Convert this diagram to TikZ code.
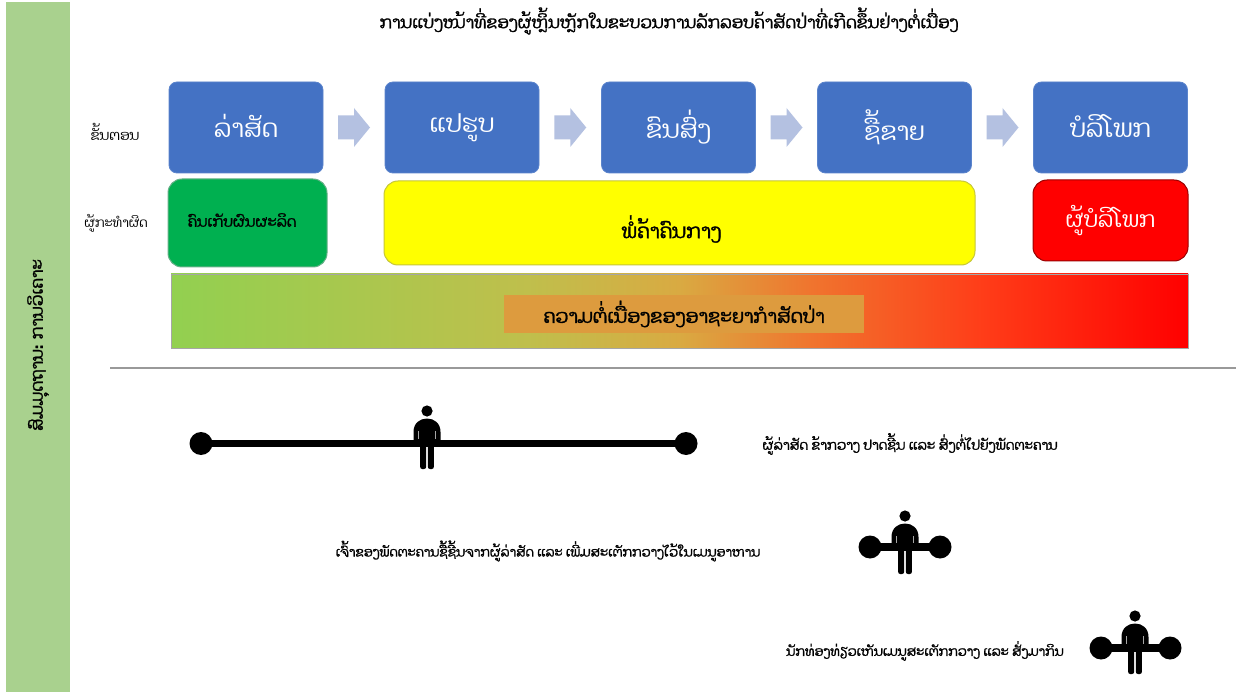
\documentclass[tikz,border=0pt]{standalone}
\usepackage{fontspec}
\usetikzlibrary{calc}
\newfontfamily\lao[Script=Lao]{Dhyana}
\newfontfamily\laob[Script=Lao,FakeBold=1.5]{Dhyana}
\definecolor{boxblue}{HTML}{4472C4}
\definecolor{boxedge}{HTML}{5B84CC}
\definecolor{arrowblue}{HTML}{B4C1E1}
\definecolor{sidegreen}{HTML}{A9D18E}
\definecolor{okgreen}{HTML}{00B050}
\definecolor{pureyellow}{HTML}{FFFF00}
\definecolor{purered}{HTML}{FF0000}
\definecolor{innerorange}{HTML}{DD9B3E}
\definecolor{g0}{HTML}{92D050}
\definecolor{g1}{HTML}{BFBF4C}
\definecolor{g2}{HTML}{D9AA42}
\definecolor{g3}{HTML}{F0742E}
\definecolor{g35}{HTML}{FF3C18}
\definecolor{g4}{HTML}{FF0000}
\pgfdeclarehorizontalshading{chainshade}{100bp}{
  color(0bp)=(g0);
  color(25bp)=(g0);
  color(42.5bp)=(g1);
  color(50bp)=(g2);
  color(56.5bp)=(g3);
  color(65bp)=(g35);
  color(75bp)=(g4);
  color(100bp)=(g4)}
\tikzset{
  stepbox/.style={draw=boxedge,line width=0.8pt,fill=boxblue,rounded corners=8pt,inner sep=0pt,text=white,align=center,font=\lao\fontsize{25}{30}\selectfont},
  rolebox/.style={line width=1pt,rounded corners=14pt,inner sep=0pt,align=center},
  sidelabel/.style={font=\lao\fontsize{13}{16}\selectfont,inner sep=0pt},
  note/.style={font=\laob\fontsize{13}{16}\selectfont,inner sep=0pt},
  knob/.style={circle,fill=black,inner sep=0pt},
  bar/.style={line width=7.5pt,black,shorten <=-3pt,shorten >=-3pt},
  flowarrow/.pic={
    \fill[arrowblue] (-16,-12) -- (0,-12) -- (0,-19.5) -- (16,0) -- (0,19.5) -- (0,12) -- (-16,12) -- cycle;
  },
  person/.pic={
    \fill[black] (0,0) circle (5.6);
    \fill[black] (-13.5,30) -- (-13.5,21) .. controls (-13.5,12) and (-7,7.5) .. (0,7.5) .. controls (7,7.5) and (13.5,12) .. (13.5,21) -- (13.5,30) -- cycle;
    \fill[black,rounded corners=2pt] (-6.8,28) rectangle (-0.9,58);
    \fill[black,rounded corners=2pt] (0.9,28) rectangle (6.8,58);
    \fill[gray!70] (-9.3,20) rectangle (-8,28);
    \fill[gray!70] (8,20) rectangle (9.3,28);
  }
}
\begin{document}
\begin{tikzpicture}[x=1pt,y=-1pt]
\useasboundingbox (0,0) rectangle (1236,692);
\fill[white] (0,0) rectangle (1236,692);
% side bar
\node[fill=sidegreen,minimum width=64pt,minimum height=690pt,inner sep=0pt] (side) at (38,347) {};
\node[rotate=90,font=\laob\fontsize{17}{20}\selectfont,inner sep=0pt] (sidetext) at (38,345) {ສົມມຸດຖານ: ການວິເຄາະ};
% title
\node[font=\laob\fontsize{16.85}{20}\selectfont,inner sep=0pt] (title) at (669,21) {ການແບ່ງໜ້າທີ່ຂອງຜູ້ຫຼິ້ນຫຼັກໃນຂະບວນການລັກລອບຄ້າສັດປ່າທີ່ເກີດຂຶ້ນຢ່າງຕໍ່ເນື່ອງ};
% row labels
\node[sidelabel,font=\lao\fontsize{14}{16}\selectfont] (lab1) at (115,132) {ຂັ້ນຕອນ};
\node[sidelabel] (lab2) at (116,223) {ຜູ້ກະທຳຜິດ};
% steps
\node[stepbox,minimum width=154pt,minimum height=91pt] (s1) at (246,127.5) {\raisebox{3pt}{ລ່າສັດ}};
\node[stepbox,minimum width=154pt,minimum height=91pt] (s2) at (462,127.5) {\raisebox{3pt}{ແປຮູບ}};
\node[stepbox,minimum width=154pt,minimum height=91pt] (s3) at (678.5,127.5) {\raisebox{3pt}{ຂົນສົ່ງ}};
\node[stepbox,minimum width=154pt,minimum height=91pt] (s4) at (894.5,127.5) {\raisebox{3pt}{ຊື້ຂາຍ}};
\node[stepbox,minimum width=154pt,minimum height=91pt] (s5) at (1110.5,127.5) {\raisebox{3pt}{ບໍລິໂພກ}};
% block arrows between steps
\pic at ($(s1.east)!0.5!(s2.west)$) {flowarrow};
\pic at ($(s2.east)!0.5!(s3.west)$) {flowarrow};
\pic at ($(s3.east)!0.5!(s4.west)$) {flowarrow};
\pic at ($(s4.east)!0.5!(s5.west)$) {flowarrow};
% roles
\node[rolebox,draw=okgreen!70!black!60,fill=okgreen,minimum width=159pt,minimum height=88pt] (r1) at (247.5,223) {};
\node[font=\laob\fontsize{14.8}{18}\selectfont,inner sep=0pt] (r1t) at (242,220) {ຄົນເກັບຜົນຜະລິດ};
\node[rolebox,draw=pureyellow!55!gray,fill=pureyellow,minimum width=591pt,minimum height=84pt] (r2) at (679.5,223) {};
\node[font=\laob\fontsize{20}{22}\selectfont,inner sep=0pt] (r2t) at (671.5,229) {ພໍ່ຄ້າຄົນກາງ};
\node[rolebox,draw=purered!60!black,fill=purered,text=white,minimum width=155pt,minimum height=81pt,font=\lao\fontsize{22}{26}\selectfont] (r3) at (1110.5,220.5) {\raisebox{1pt}{ຜູ້ບໍລິໂພກ}};
% continuity bar
\node[draw=gray!70,line width=0.8pt,shading=chainshade,minimum width=1017pt,minimum height=74pt,inner sep=0pt] (chain) at (679.5,311) {};
\node[fill=innerorange,minimum width=360pt,minimum height=38pt,inner sep=0pt,font=\laob\fontsize{19}{22}\selectfont] (chaintext) at (684,314) {ຄວາມຕໍ່ເນື່ອງຂອງອາຊະຍາກຳສັດປ່າ};
% divider
\coordinate (d1) at (110,368);
\coordinate (d2) at (1236,368);
\draw[gray!80,line width=1.2pt] (d1) -- (d2);
% timeline 1
\node[knob,minimum size=23pt] (k1a) at (201,443.5) {};
\node[knob,minimum size=23pt] (k1b) at (686,443.5) {};
\pic at (427,411) {person};
\draw[bar] (k1a) -- (k1b);
\node[note,font=\laob\fontsize{13.5}{16}\selectfont] (n1) at (910,444) {ຜູ້ລ່າສັດ ຂ້າກວາງ ປາດຊີ້ນ ແລະ ສົ່ງຕໍ່ໄປຍັງພັດຕະຄານ};
% timeline 2
\node[knob,minimum size=23pt] (k2a) at (870,547) {};
\node[knob,minimum size=23pt] (k2b) at (940,547) {};
\pic at (905,516) {person};
\draw[bar] (k2a) -- (k2b);
\node[note] (n2) at (548,551) {ເຈົ້າຂອງພັດຕະຄານຊື້ຊີ້ນຈາກຜູ້ລ່າສັດ ແລະ ເພີ່ມສະເຕັກກວາງໄວ້ໃນເມນູອາຫານ};
% timeline 3
\node[knob,minimum size=23pt] (k3a) at (1101,648) {};
\node[knob,minimum size=23pt] (k3b) at (1170,648) {};
\pic at (1135,616) {person};
\draw[bar] (k3a) -- (k3b);
\node[note] (n3) at (925,651) {ນັກທ່ອງທ່ຽວເຫັນເມນູສະເຕັກກວາງ ແລະ ສັ່ງມາກິນ};
\end{tikzpicture}
\end{document}
